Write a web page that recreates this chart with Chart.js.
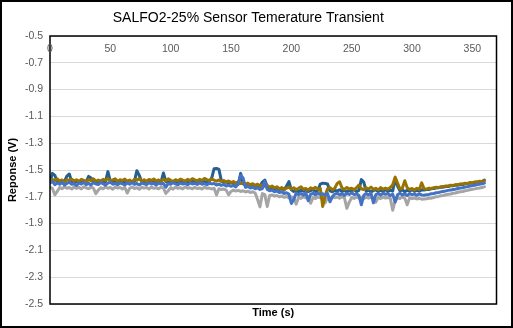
<!DOCTYPE html>
<html lang="en">
<head>
  <meta charset="UTF-8" />
  <title>SALFO2-25% Sensor Temerature Transient</title>
  <script src="https://cdn.jsdelivr.net/npm/chart.js"></script>
  <style>
    body {
      margin: 0;
      background: #ffffff;
    }
    canvas {
      display: block;
    }
  </style>
</head>
<body>
  <canvas id="transientChart" width="513" height="328"></canvas>

  <script>
    // time (s), one reading every 2 s
    const times = [
      0, 2, 4, 6, 8, 10, 12, 14, 16, 18,
      20, 22, 24, 26, 28, 30, 32, 34, 36, 38,
      40, 42, 44, 46, 48, 50, 52, 54, 56, 58,
      60, 62, 64, 66, 68, 70, 72, 74, 76, 78,
      80, 82, 84, 86, 88, 90, 92, 94, 96, 98,
      100, 102, 104, 106, 108, 110, 112, 114, 116, 118,
      120, 122, 124, 126, 128, 130, 132, 134, 136, 138,
      140, 142, 144, 146, 148, 150, 152, 154, 156, 158,
      160, 162, 164, 166, 168, 170, 172, 174, 176, 178,
      180, 182, 184, 186, 188, 190, 192, 194, 196, 198,
      200, 202, 204, 206, 208, 210, 212, 214, 216, 218,
      220, 222, 224, 226, 228, 230, 232, 234, 236, 238,
      240, 242, 244, 246, 248, 250, 252, 254, 256, 258,
      260, 262, 264, 266, 268, 270, 272, 274, 276, 278,
      280, 282, 284, 286, 288, 290, 292, 294, 296, 298,
      300, 302, 304, 306, 308, 310, 312, 314, 316, 318,
      320, 322, 324, 326, 328, 330, 332, 334, 336, 338,
      340, 342, 344, 346, 348, 350, 352, 354, 356, 358,
      360
    ];

    const goldSeries = [
      -1.585, -1.570, -1.580, -1.566, -1.583, -1.574, -1.588, -1.571, -1.579, -1.568,
      -1.582, -1.573, -1.586, -1.569, -1.577, -1.590, -1.572, -1.580, -1.565, -1.584,
      -1.575, -1.587, -1.570, -1.578, -1.563, -1.581, -1.574, -1.566, -1.585, -1.572,
      -1.579, -1.568, -1.584, -1.575, -1.589, -1.570, -1.577, -1.564, -1.582, -1.573,
      -1.586, -1.571, -1.578, -1.567, -1.583, -1.574, -1.588, -1.569, -1.580, -1.566,
      -1.577, -1.585, -1.572, -1.581, -1.568, -1.576, -1.584, -1.570, -1.579, -1.565,
      -1.574, -1.582, -1.569, -1.577, -1.563, -1.572, -1.580, -1.568, -1.576, -1.583,
      -1.574, -1.586, -1.578, -1.590, -1.582, -1.594, -1.586, -1.598, -1.589, -1.601,
      -1.594, -1.606, -1.598, -1.610, -1.602, -1.614, -1.606, -1.619, -1.610, -1.622,
      -1.615, -1.628, -1.620, -1.633, -1.625, -1.640, -1.631, -1.645, -1.636, -1.628,
      -1.642, -1.632, -1.648, -1.636, -1.625, -1.644, -1.638, -1.650, -1.633, -1.641,
      -1.629, -1.645, -1.637, -1.772, -1.690, -1.640, -1.631, -1.647, -1.636, -1.600,
      -1.588, -1.634, -1.645, -1.630, -1.642, -1.636, -1.648, -1.632, -1.612, -1.640,
      -1.646, -1.633, -1.641, -1.628, -1.645, -1.637, -1.649, -1.631, -1.643, -1.636,
      -1.644, -1.630, -1.610, -1.553, -1.598, -1.642, -1.635, -1.580, -1.632, -1.646,
      -1.638, -1.649, -1.636, -1.645, -1.596, -1.640, -1.643, -1.636, -1.638, -1.632,
      -1.629, -1.631, -1.625, -1.624, -1.619, -1.620, -1.614, -1.615, -1.610, -1.609,
      -1.604, -1.605, -1.599, -1.600, -1.594, -1.595, -1.589, -1.590, -1.584, -1.585,
      -1.579
    ];

    const darkBlueSeries = [
      -1.592, -1.525, -1.540, -1.590, -1.582, -1.596, -1.585, -1.545, -1.530, -1.588,
      -1.595, -1.583, -1.591, -1.580, -1.594, -1.586, -1.548, -1.560, -1.592, -1.584,
      -1.590, -1.581, -1.595, -1.587, -1.512, -1.585, -1.593, -1.580, -1.591, -1.586,
      -1.583, -1.594, -1.588, -1.580, -1.592, -1.585, -1.505, -1.540, -1.589, -1.583,
      -1.596, -1.586, -1.581, -1.593, -1.588, -1.584, -1.591, -1.522, -1.587, -1.594,
      -1.582, -1.590, -1.586, -1.595, -1.580, -1.589, -1.584, -1.592, -1.587, -1.581,
      -1.593, -1.585, -1.590, -1.582, -1.588, -1.594, -1.583, -1.560, -1.490, -1.488,
      -1.495, -1.580, -1.594, -1.588, -1.600, -1.592, -1.604, -1.596, -1.608, -1.525,
      -1.603, -1.612, -1.606, -1.616, -1.608, -1.620, -1.612, -1.624, -1.590, -1.575,
      -1.622, -1.634, -1.628, -1.640, -1.633, -1.646, -1.638, -1.650, -1.620, -1.587,
      -1.648, -1.660, -1.652, -1.663, -1.650, -1.658, -1.645, -1.661, -1.653, -1.648,
      -1.660, -1.652, -1.605, -1.598, -1.600, -1.604, -1.656, -1.662, -1.650, -1.657,
      -1.647, -1.660, -1.653, -1.664, -1.650, -1.657, -1.646, -1.661, -1.652, -1.572,
      -1.590, -1.658, -1.650, -1.663, -1.654, -1.647, -1.660, -1.652, -1.658, -1.645,
      -1.661, -1.650, -1.657, -1.565, -1.620, -1.655, -1.648, -1.662, -1.651, -1.658,
      -1.646, -1.660, -1.652, -1.657, -1.648, -1.650, -1.646, -1.645, -1.640, -1.638,
      -1.634, -1.633, -1.628, -1.628, -1.623, -1.623, -1.618, -1.618, -1.613, -1.613,
      -1.607, -1.608, -1.602, -1.602, -1.597, -1.597, -1.592, -1.592, -1.586, -1.586,
      -1.576
    ];

    const blueSeries = [
      -1.598, -1.585, -1.610, -1.596, -1.606, -1.592, -1.612, -1.600, -1.590, -1.607,
      -1.603, -1.615, -1.597, -1.605, -1.592, -1.609, -1.600, -1.611, -1.595, -1.604,
      -1.608, -1.594, -1.602, -1.613, -1.598, -1.590, -1.606, -1.601, -1.610, -1.596,
      -1.604, -1.611, -1.597, -1.606, -1.593, -1.608, -1.600, -1.612, -1.598, -1.603,
      -1.609, -1.595, -1.604, -1.599, -1.612, -1.596, -1.605, -1.601, -1.628, -1.600,
      -1.607, -1.594, -1.603, -1.610, -1.597, -1.605, -1.599, -1.611, -1.596, -1.604,
      -1.600, -1.608, -1.595, -1.606, -1.601, -1.610, -1.598, -1.604, -1.600, -1.612,
      -1.605, -1.615, -1.608, -1.620, -1.612, -1.622, -1.615, -1.626, -1.600, -1.540,
      -1.560, -1.630, -1.622, -1.634, -1.628, -1.640, -1.632, -1.645, -1.638, -1.585,
      -1.645, -1.655, -1.650, -1.662, -1.656, -1.668, -1.662, -1.675, -1.670, -1.680,
      -1.750, -1.720, -1.672, -1.684, -1.676, -1.688, -1.670, -1.730, -1.681, -1.674,
      -1.686, -1.672, -1.683, -1.677, -1.689, -1.675, -1.737, -1.700, -1.680, -1.672,
      -1.685, -1.676, -1.690, -1.674, -1.682, -1.670, -1.684, -1.678, -1.690, -1.760,
      -1.690, -1.675, -1.686, -1.672, -1.745, -1.684, -1.676, -1.688, -1.673, -1.682,
      -1.677, -1.690, -1.680, -1.740, -1.685, -1.674, -1.686, -1.679, -1.691, -1.676,
      -1.684, -1.680, -1.689, -1.678, -1.686, -1.688, -1.684, -1.682, -1.677, -1.675,
      -1.670, -1.668, -1.663, -1.661, -1.656, -1.652, -1.650, -1.645, -1.643, -1.638,
      -1.634, -1.632, -1.627, -1.625, -1.620, -1.616, -1.614, -1.609, -1.607, -1.602,
      -1.598
    ];

    const greySeries = [
      -1.628, -1.638, -1.685, -1.660, -1.630, -1.640, -1.626, -1.636, -1.631, -1.642,
      -1.627, -1.637, -1.629, -1.641, -1.625, -1.634, -1.639, -1.628, -1.635, -1.676,
      -1.650, -1.632, -1.640, -1.627, -1.636, -1.630, -1.643, -1.628, -1.635, -1.631,
      -1.641, -1.629, -1.672, -1.636, -1.627, -1.638, -1.632, -1.644, -1.629, -1.635,
      -1.630, -1.642, -1.627, -1.637, -1.633, -1.640, -1.628, -1.636, -1.674, -1.655,
      -1.631, -1.643, -1.628, -1.637, -1.632, -1.641, -1.627, -1.636, -1.633, -1.640,
      -1.629, -1.638, -1.634, -1.642, -1.628, -1.637, -1.635, -1.641, -1.636, -1.687,
      -1.640, -1.646, -1.642, -1.650, -1.685, -1.660, -1.650, -1.657, -1.652, -1.660,
      -1.655, -1.664, -1.658, -1.668, -1.662, -1.672, -1.720, -1.775, -1.676, -1.684,
      -1.772, -1.690, -1.686, -1.695, -1.690, -1.700, -1.694, -1.704, -1.698, -1.708,
      -1.700, -1.710, -1.755, -1.704, -1.712, -1.699, -1.708, -1.702, -1.748, -1.706,
      -1.713, -1.700, -1.709, -1.703, -1.745, -1.706, -1.712, -1.699, -1.707, -1.702,
      -1.711, -1.700, -1.708, -1.786, -1.740, -1.705, -1.712, -1.701, -1.709, -1.703,
      -1.714, -1.702, -1.710, -1.704, -1.712, -1.740, -1.706, -1.713, -1.701, -1.709,
      -1.705, -1.712, -1.800, -1.730, -1.707, -1.713, -1.702, -1.710, -1.760, -1.708,
      -1.714, -1.709, -1.716, -1.711, -1.718, -1.716, -1.715, -1.711, -1.710, -1.705,
      -1.699, -1.697, -1.692, -1.690, -1.685, -1.681, -1.679, -1.674, -1.672, -1.666,
      -1.662, -1.660, -1.655, -1.652, -1.648, -1.644, -1.641, -1.637, -1.634, -1.630,
      -1.626
    ];

    // labels shown along the top edge of the plot
    const xTickLabels = [0, 50, 100, 150, 200, 250, 300, 350];

    const FONT = "'Liberation Sans', Arial, sans-serif";

    function toPoints(values) {
      return values.map((v, i) => ({ x: times[i], y: v }));
    }

    // frame, plot border and the x labels sitting inside the top of the plot
    const framePlugin = {
      id: 'frame',
      afterDatasetsDraw(chart) {
        const { ctx, chartArea } = chart;
        const xScale = chart.scales.x;
        ctx.save();
        ctx.strokeStyle = '#000000';
        ctx.lineWidth = 1.5;
        ctx.strokeRect(chartArea.left, chartArea.top,
          chartArea.right - chartArea.left, chartArea.bottom - chartArea.top);

        ctx.fillStyle = '#595959';
        ctx.font = '10.5px ' + FONT;
        ctx.textAlign = 'center';
        ctx.textBaseline = 'middle';
        xTickLabels.forEach((t) => {
          ctx.fillText(String(t), xScale.getPixelForValue(t), chartArea.top + 13);
        });
        ctx.restore();
      },
      afterDraw(chart) {
        const { ctx, width, height } = chart;
        ctx.save();
        ctx.strokeStyle = '#000000';
        ctx.lineWidth = 2;
        ctx.strokeRect(1, 1, width - 2, height - 2);
        ctx.restore();
      }
    };

    const lineStyle = {
      pointRadius: 0,
      borderWidth: 3,
      tension: 0,
      borderJoinStyle: 'round',
      borderCapStyle: 'round',
      fill: false
    };

    new Chart(document.getElementById('transientChart').getContext('2d'), {
      type: 'line',
      data: {
        datasets: [
          Object.assign({ label: 'Sensor 4', data: toPoints(blueSeries), borderColor: '#4472C4' }, lineStyle),
          Object.assign({ label: 'Sensor 3', data: toPoints(goldSeries), borderColor: '#997300' }, lineStyle),
          Object.assign({ label: 'Sensor 2', data: toPoints(darkBlueSeries), borderColor: '#255E91' }, lineStyle),
          Object.assign({ label: 'Sensor 1', data: toPoints(greySeries), borderColor: '#A5A5A5' }, lineStyle)
        ]
      },
      options: {
        responsive: false,
        animation: false,
        devicePixelRatio: 1,
        layout: { padding: { top: 0, left: 0, right: 16.5, bottom: 0 } },
        plugins: {
          legend: { display: false },
          tooltip: { enabled: false },
          title: {
            display: true,
            text: 'SALFO2-25% Sensor Temerature Transient',
            color: '#000000',
            font: { family: FONT, size: 14, weight: 'normal', lineHeight: 1.2 },
            padding: { top: 10, bottom: 9.2 }
          }
        },
        scales: {
          x: {
            type: 'linear',
            position: 'bottom',
            min: 0,
            max: 370,
            grid: { display: false },
            border: { display: false },
            ticks: { display: false },
            title: {
              display: true,
              text: 'Time (s)',
              color: '#000000',
              font: { family: FONT, size: 11, weight: 'bold', lineHeight: 1.2 },
              padding: { top: 0, bottom: 8 }
            },
            afterFit(scale) { scale.height = 24; }
          },
          y: {
            min: -2.5,
            max: -0.5,
            grid: { color: '#d9d9d9', lineWidth: 1, drawTicks: false },
            border: { display: false },
            ticks: {
              stepSize: 0.2,
              padding: 7,
              color: '#595959',
              font: { family: FONT, size: 10.5 },
              callback: (v) => Number(v).toFixed(1)
            },
            title: {
              display: true,
              text: 'Reponse (V)',
              color: '#000000',
              font: { family: FONT, size: 11, weight: 'bold', lineHeight: 1.2 },
              padding: { top: 6, bottom: 0 }
            },
            afterFit(scale) { scale.width = 50; }
          }
        }
      },
      plugins: [framePlugin]
    });
  </script>
</body>
</html>
